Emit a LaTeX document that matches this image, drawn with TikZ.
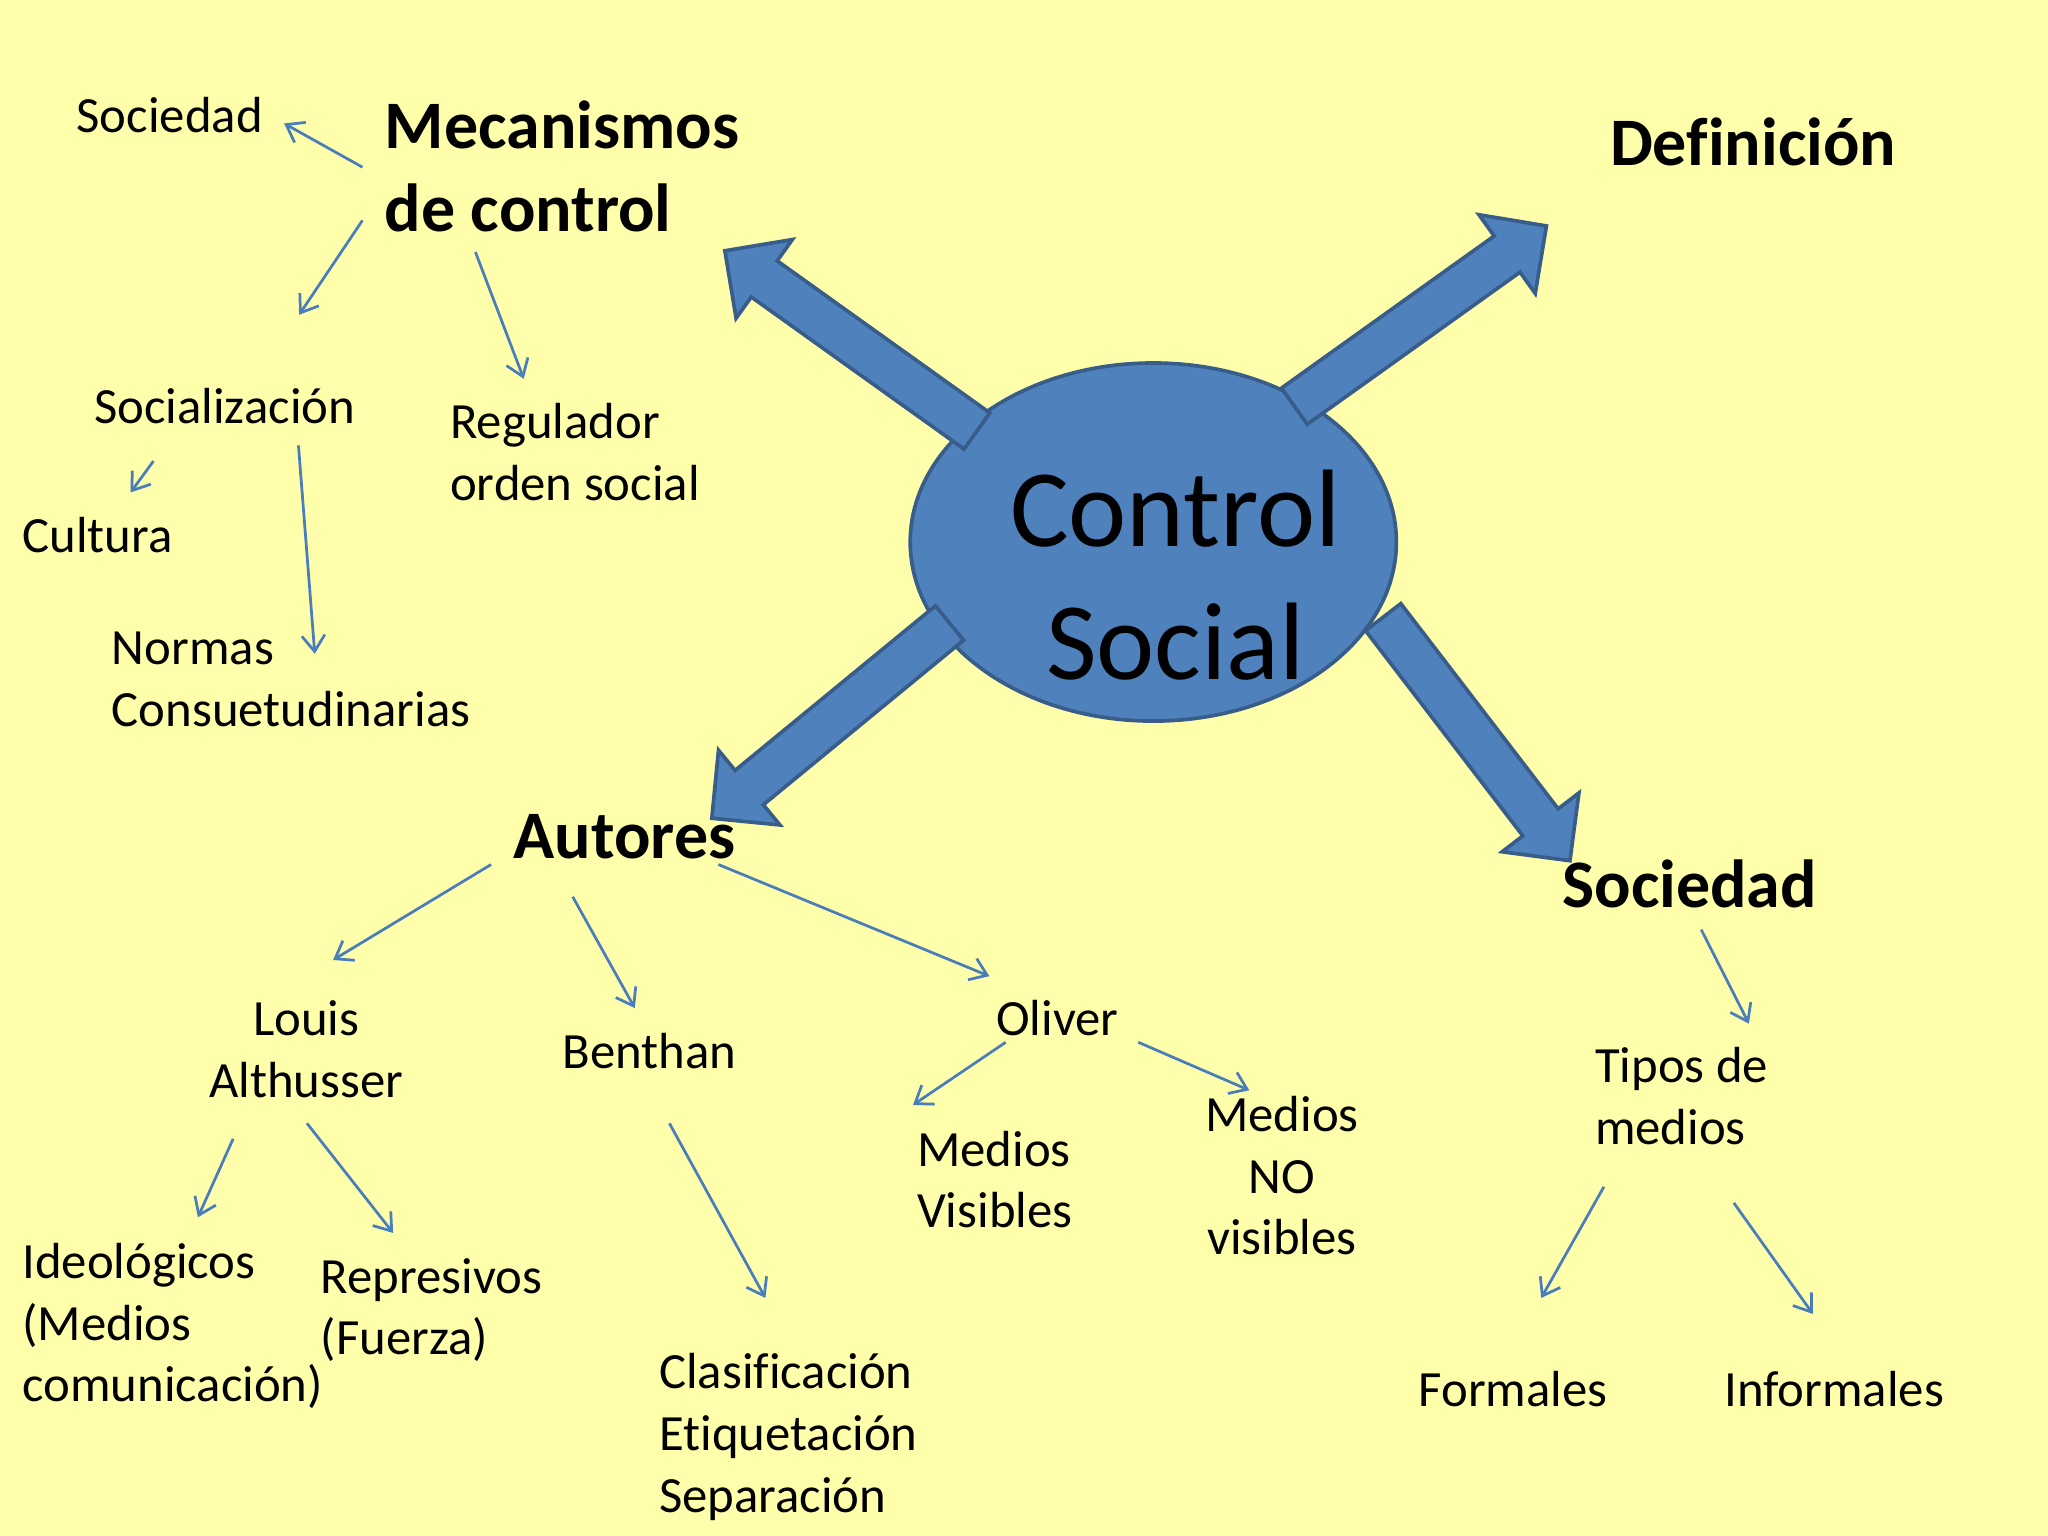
\documentclass[tikz,border=0pt]{standalone}
\usepackage{fontspec}
\setmainfont{Carlito}[Ligatures=NoCommon]
\usetikzlibrary{arrows.meta,calc,shapes.geometric}
\definecolor{bgyellow}{HTML}{FFFFAB}
\definecolor{accfill}{HTML}{4F81BD}
\definecolor{accline}{HTML}{385D8A}
\definecolor{thinline}{HTML}{4A7EBB}
\newcommand\mylines[1]{\begin{tabular}[t]{@{}l@{}}#1\end{tabular}}
\newcommand\mycenter[1]{\begin{tabular}[t]{@{}c@{}}#1\end{tabular}}
\newcommand\blockarrow[2]{%
  \coordinate (ba-H) at ($(#2)!0.37cm!(#1)$);
  \draw[blockarr] ($(#1)!0.17cm!90:(#2)$) -- ($(ba-H)!0.17cm!90:(#2)$) -- ($(ba-H)!0.37cm!90:(#2)$) -- (#2)
     -- ($(ba-H)!0.37cm!-90:(#2)$) -- ($(ba-H)!0.17cm!-90:(#2)$) -- ($(#1)!0.17cm!-90:(#2)$) -- cycle;}
\tikzset{
  txt/.style={inner sep=0pt, anchor=base west, font=\fontsize{11.05}{13.4}\selectfont, xshift=-0.01cm, yshift=-0.01cm},
  txtc/.style={inner sep=0pt, anchor=base, font=\fontsize{11.05}{13.4}\selectfont, yshift=-0.01cm},
  head/.style={inner sep=0pt, anchor=base west, font=\fontsize{14.8}{18.1}\selectfont\bfseries, xshift=-0.01cm, yshift=-0.01cm},
  blockarr/.style={fill=accfill, draw=accline, line width=0.8pt, line join=miter},
  conn/.style={draw=thinline, line width=0.6pt, -{Straight Barb[length=3.5pt,width=5pt]}},
}
\begin{document}
\begin{tikzpicture}[x=0.01cm, y=-0.01cm]
\useasboundingbox (0,0) rectangle (1568,1176);
\fill[bgyellow] (0,0) rectangle (1568,1176);

% central ellipse
\node[ellipse, fill=accfill, draw=accline, line width=0.8pt, minimum width=3.72cm, minimum height=2.74cm, inner sep=0pt] (cs) at (883,415) {};

% block arrows
\coordinate (nw-base) at (748,330);   \coordinate (nw-tip) at (555,192);
\coordinate (ne-base) at (991,311);   \coordinate (ne-tip) at (1184,173);
\coordinate (sw-base) at (727,477);   \coordinate (sw-tip) at (545,626.5);
\coordinate (se-base) at (1059,472.5);\coordinate (se-tip) at (1202,659);
\blockarrow{nw-base}{nw-tip}
\blockarrow{ne-base}{ne-tip}
\blockarrow{sw-base}{sw-tip}
\blockarrow{se-base}{se-tip}

\node[inner sep=0pt, anchor=base, font=\fontsize{24}{29}\selectfont] (cstext) at (900,418.6) {\mycenter{Control\\Social}};

% texts
\node[txt] (soc1) at (59,100.5) {Sociedad};
\node[head] (mec) at (295,112.5) {\mylines{Mecanismos\\de control}};
\node[head] (def) at (1233,126) {Definición};
\node[txt] (sociz) at (72.5,323) {Socialización};
\node[txt] (reg) at (345,335) {\mylines{Regulador\\orden social}};
\node[txt] (cult) at (17.5,422) {Cultura};
\node[txt] (norm) at (86,508) {\mylines{Normas\\Consuetudinarias}};
\node[head] (aut) at (393.5,656.6) {Autores};
\node[head] (soc2) at (1196.5,694) {Sociedad};
\node[txtc] (louis) at (234.5,792) {\mycenter{Louis\\Althusser}};
\node[txt] (benth) at (431,816.75) {Benthan};
\node[txt] (oliver) at (763,792) {Oliver};
\node[txt] (mvis) at (702.5,891.75) {\mylines{Medios\\Visibles}};
\node[txtc] (mno) at (981.5,865.5) {\mycenter{Medios\\NO\\visibles}};
\node[txt] (tipos) at (1221.5,828) {\mylines{Tipos de\\medios}};
\node[txt] (ideo) at (17.5,978) {\mylines{Ideológicos\\(Medios\\comunicación)}};
\node[txt] (repr) at (246,989) {\mylines{Represivos\\(Fuerza)}};
\node[txt] (clas) at (505,1062.4) {\mylines{Clasificación\\Etiquetación\\Separación}};
\node[txt] (form) at (1086.5,1075.5) {Formales};
\node[txt] (inform) at (1320.5,1075.5) {Informales};

% connector end points
\coordinate (mec-a) at (277.5,128);    \coordinate (soc1-e) at (217.5,94.5);
\coordinate (mec-b) at (277.5,168.75); \coordinate (sociz-n) at (229,241);
\coordinate (mec-c) at (364,193);      \coordinate (reg-n) at (401,290);
\coordinate (sociz-a) at (117.5,353);  \coordinate (cult-n) at (100,377);
\coordinate (sociz-b) at (228.5,341);  \coordinate (norm-e) at (241,500.6);
\coordinate (aut-a) at (376,661.9);    \coordinate (louis-n) at (255,735);
\coordinate (aut-b) at (438.5,686.6);  \coordinate (benth-n) at (486,771.8);
\coordinate (aut-c) at (550,661.9);    \coordinate (oliver-n) at (757.5,747.4);
\coordinate (louis-a) at (178.5,871.9);\coordinate (ideo-n) at (151.5,932);
\coordinate (louis-b) at (235,860);    \coordinate (repr-n) at (301,944);
\coordinate (benth-a) at (512.5,860);  \coordinate (clas-n) at (586,993.75);
\coordinate (oliver-a) at (770,798);   \coordinate (mvis-n) at (699,846);
\coordinate (oliver-b) at (871.5,798); \coordinate (mno-n) at (956.5,834.75);
\coordinate (soc2-a) at (1302.5,711.75);\coordinate (tipos-n) at (1339,783.75);
\coordinate (tipos-a) at (1228,908.6); \coordinate (form-n) at (1180,993.75);
\coordinate (tipos-b) at (1327.5,921); \coordinate (inform-n) at (1388,1006);

\draw[conn] (mec-a) -- (soc1-e);
\draw[conn] (mec-b) -- (sociz-n);
\draw[conn] (mec-c) -- (reg-n);
\draw[conn] (sociz-a) -- (cult-n);
\draw[conn] (sociz-b) -- (norm-e);
\draw[conn] (aut-a) -- (louis-n);
\draw[conn] (aut-b) -- (benth-n);
\draw[conn] (aut-c) -- (oliver-n);
\draw[conn] (louis-a) -- (ideo-n);
\draw[conn] (louis-b) -- (repr-n);
\draw[conn] (benth-a) -- (clas-n);
\draw[conn] (oliver-a) -- (mvis-n);
\draw[conn] (oliver-b) -- (mno-n);
\draw[conn] (soc2-a) -- (tipos-n);
\draw[conn] (tipos-a) -- (form-n);
\draw[conn] (tipos-b) -- (inform-n);
\end{tikzpicture}
\end{document}
